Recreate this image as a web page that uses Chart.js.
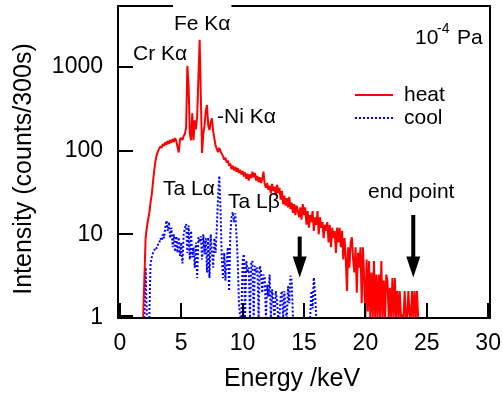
<!DOCTYPE html>
<html>
<head>
<meta charset="utf-8">
<script src="https://cdn.jsdelivr.net/npm/chart.js@4.4.0/dist/chart.umd.min.js"></script>
<style>
  html, body { margin: 0; padding: 0; background: #fff; }
  canvas { display: block; }
</style>
</head>
<body>
<canvas id="chart" width="503" height="395"></canvas>
<script>
const FONT = '"Liberation Sans", Arial, Helvetica, sans-serif';

// spectra, one value every 0.1 keV
const heatStart = 1.9;
const coolStart = 2.0;
const binWidth = 0.1;

const heatCounts = [
  1,
  3, 9, 12, 15, 18, 24, 30, 42, 58, 75,
  88, 98, 105, 112, 108, 120, 114, 126, 118, 131,
  120, 134, 124, 138, 127, 141, 130, 110, 95, 136,
  142, 134, 150, 158, 190, 1030, 600, 160, 133, 280,
  133, 230, 180, 260, 750, 2115, 420, 94, 160, 200,
  300, 351, 200, 176, 220, 243, 170, 140, 115, 105,
  96, 108, 98, 92, 86, 78, 82, 72, 76, 66,
  70, 60, 66, 58, 64, 56, 62, 54, 59, 52,
  57, 49, 55, 46, 53, 44, 52, 47, 56, 48,
  54, 44, 50, 42, 48, 41, 46, 56, 40, 36,
  41, 34, 38, 31, 40, 33, 37, 29, 39, 31,
  36, 26, 33, 23, 29, 22, 27, 21, 28, 20,
  24, 18, 23, 17, 22, 19, 16, 21, 15, 23,
  17, 21, 13, 19, 12, 17, 14, 19, 11, 16,
  13, 19, 10, 16, 12, 14, 9, 13, 11, 14,
  8, 13, 7, 12, 9, 11, 6, 12, 8, 12,
  7, 11, 5, 9, 5.3, 2.1, 7, 4, 8, 9.2,
  5, 3.5, 7, 2, 6, 4, 7, 1.5, 7, 3,
  1, 5, 1.2, 4.8, 1, 3.5, 1, 4.8, 1, 3.3,
  1, 3.3, 1, 4.8, 1, 2.8, 1, 3.3, 2.8, 1,
  2.3, 1, 3, 1, 3, 1, 2.1, 1, 2.1, 1,
  1.1, 1, 2.1, 1, 1, 2.1, 1.1, 1, 2.1, 1,
  2.1, 1, 2.1, 1
];

const coolCounts = [
  1, 4, 1, null, 1, 4.5, 5.3, 6, 6.4, 7,
  6.8, 7.5, 7.7, 9, 8.4, 10, 9, 12, 14.6, 11,
  14, 9, 12, 7, 10, 6.2, 9.5, 6, 9.2, 5.5,
  8, 4.5, 10, 12, 13.3, 6, 12.7, 5, 11, 5.3,
  7, 4, 8, 3, 9.2, 8, 9.5, 5, 10, 5.8,
  9, 3.5, 9.2, 3, 10, 6, 4, 9, 6, 12,
  28, 50, 20, 5.3, 3, 6, 2.8, 5, 7, 2.1,
  10, 16, 18.4, 14, 17.8, 10, 5, 1.5, 1, 1,
  4.8, 5.8, 1, 4.8, 3.5, 4, 1, 4.5, 4.8, 1,
  4.2, 3.5, 4, 1, 4.2, 3.6, 2, 3.3, 3.05, 1,
  2.5, 1.8, 3.3, 1, 2.2, 1.5, 1, 2.1, 1.6, 1,
  1, 1.8, 2.1, 1, 2.1, 1.2, 1, 2.4, 1.5, 3.2,
  2.8, 1, 1, null, null, null, null, null, null, null,
  null, null, null, null, null, 1, 2.1, 1.3, 3.05, 2,
  1
];

const seriesNames = ['heat', 'cool'];
const xTicks = [0, 5, 10, 15, 20, 25, 30];
const yTicks = [1, 10, 100, 1000];
// arrows: energy, tip count, tail count
const arrowAt = [[14.65, 3.05, 9.4], [23.9, 3.05, 17]];

const toPoints = (start, arr) =>
  arr.map((v, i) => ({ x: +(start + i * binWidth).toFixed(2), y: v }));

const noPadding = s => {
  s.paddingTop = 0; s.paddingBottom = 0; s.paddingLeft = 0; s.paddingRight = 0;
};

const decor = {
  id: 'decor',
  afterDraw(chart) {
    const { ctx, chartArea: a, scales: { x, y } } = chart;
    ctx.save();

    // frame
    ctx.strokeStyle = '#000';
    ctx.lineWidth = 2;
    ctx.strokeRect(a.left, a.top, a.right - a.left, a.bottom - a.top);

    // inward ticks
    ctx.beginPath();
    xTicks.forEach(v => {
      const px = Math.round(x.getPixelForValue(v));
      ctx.moveTo(px, a.bottom);
      ctx.lineTo(px, a.bottom - 15);
    });
    yTicks.forEach(v => {
      const py = Math.round(y.getPixelForValue(v)) - (v === 1 ? 2 : 0);
      ctx.moveTo(a.left, py);
      ctx.lineTo(a.left + 15, py);
    });
    ctx.stroke();

    // axis titles
    ctx.fillStyle = '#000';
    ctx.font = '25px ' + FONT;
    ctx.textAlign = 'center';
    ctx.textBaseline = 'alphabetic';
    ctx.fillText('Energy /keV', 292, 386);
    ctx.save();
    ctx.translate(31, 169);
    ctx.rotate(-Math.PI / 2);
    ctx.fillText('Intensity (counts/300s)', 0, 0);
    ctx.restore();

    // peak labels
    ctx.textAlign = 'left';
    ctx.font = '21px ' + FONT;
    const fe = 'Fe K\u03b1';
    const w = ctx.measureText(fe).width;
    ctx.fillStyle = '#fff';
    ctx.fillRect(173, 0, w + 2, 12);
    ctx.fillStyle = '#000';
    ctx.fillText(fe, 174, 30);
    ctx.fillText('Cr K\u03b1', 133, 60);
    ctx.fillText('-Ni K\u03b1', 217, 123);
    ctx.fillText('Ta L\u03b1', 163, 195);
    ctx.fillText('Ta L\u03b2', 228, 208);
    ctx.fillText('end point', 368, 198);

    // pressure note
    ctx.fillText('10', 415, 44);
    ctx.fillText('Pa', 457, 44);
    ctx.font = '14px ' + FONT;
    ctx.fillText('-4', 437, 33);

    // legend
    ctx.font = '21px ' + FONT;
    ctx.textBaseline = 'middle';
    const ds = chart.data.datasets;
    [[95, 0], [118, 1]].forEach(([ly, i]) => {
      ctx.beginPath();
      ctx.strokeStyle = ds[i].borderColor;
      ctx.lineWidth = 2;
      ctx.setLineDash(ds[i].borderDash || []);
      ctx.moveTo(355, ly);
      ctx.lineTo(393, ly);
      ctx.stroke();
      ctx.setLineDash([]);
      ctx.fillStyle = '#000';
      ctx.fillText(seriesNames[i], 404, ly);
    });

    // arrows
    ctx.fillStyle = '#000';
    arrowAt.forEach(([e, tip, tail]) => {
      const px = x.getPixelForValue(e);
      const yt = y.getPixelForValue(tip);
      const yb = y.getPixelForValue(tail);
      ctx.fillRect(px - 2, yb, 4, yt - yb - 18);
      ctx.beginPath();
      ctx.moveTo(px - 7, yt - 21);
      ctx.lineTo(px + 7, yt - 21);
      ctx.lineTo(px, yt);
      ctx.closePath();
      ctx.fill();
    });

    ctx.restore();
  }
};

new Chart(document.getElementById('chart'), {
  type: 'line',
  data: {
    datasets: [
      {
        label: seriesNames[0],
        data: toPoints(heatStart, heatCounts),
        borderColor: '#ff0000',
        borderWidth: 2,
        pointRadius: 0,
        tension: 0,
        borderJoinStyle: 'bevel'
      },
      {
        label: seriesNames[1],
        data: toPoints(coolStart, coolCounts),
        borderColor: '#0000ff',
        borderWidth: 2,
        borderDash: [2, 2],
        pointRadius: 0,
        tension: 0,
        spanGaps: false,
        borderJoinStyle: 'bevel'
      }
    ]
  },
  options: {
    responsive: false,
    animation: false,
    devicePixelRatio: 1,
    layout: { padding: { top: 6, right: 13, left: 0, bottom: 0 } },
    plugins: { legend: { display: false }, tooltip: { enabled: false } },
    scales: {
      x: {
        type: 'linear',
        min: -0.15,
        max: 30.15,
        afterBuildTicks: s => { s.ticks = xTicks.map(v => ({ value: v })); },
        afterFit: s => { s.height = 77; noPadding(s); },
        grid: { display: false, drawTicks: false },
        border: { display: false },
        ticks: {
          font: { family: FONT, size: 23 },
          color: '#000',
          padding: 12,
          maxRotation: 0,
          autoSkip: false,
          callback: v => String(v)
        }
      },
      y: {
        type: 'logarithmic',
        min: 1,
        max: 5350,
        afterBuildTicks: s => { s.ticks = yTicks.map(v => ({ value: v })); },
        afterFit: s => { s.width = 118; noPadding(s); },
        grid: { display: false, drawTicks: false },
        border: { display: false },
        ticks: {
          font: { family: FONT, size: 23 },
          color: '#000',
          padding: 15,
          autoSkip: false,
          callback: v => String(v)
        }
      }
    }
  },
  plugins: [decor]
});
</script>
</body>
</html>
